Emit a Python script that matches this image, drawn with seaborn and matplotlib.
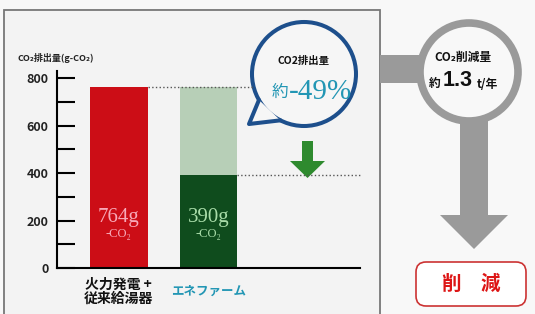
import matplotlib
matplotlib.use("Agg")
import matplotlib.pyplot as plt
import numpy as np
import pandas as pd
import seaborn as sns
from matplotlib.patches import Rectangle, Circle, Polygon, FancyBboxPatch

# data
categories = ["火力発電 +\n従来給湯器", "エネファーム"]
baseline = [764, 764]
emissions = [764, 390]
value_labels = ["764g", "390g"]
reduction_label = "-49%"
annual_cut = "1.3"

RED = "#cc0d16"
LIGHT_GREEN = "#b7cfb7"
DARK_GREEN = "#0f4c1d"
TEAL = "#2296b4"
BLUE_RING = "#1d4f8c"
GREY = "#9a9a9a"

sns.set_theme(style="white")
plt.rcParams["font.family"] = ["Noto Sans CJK JP", "DejaVu Sans"]

fig = plt.figure(figsize=(5.35, 3.14), dpi=100, facecolor="#f8f8f8")

# decoration layer in pixel coordinates
deco = fig.add_axes([0, 0, 1, 1], zorder=0)
deco.set_xlim(0, 535)
deco.set_ylim(314, 0)
deco.axis("off")

deco.add_patch(Rectangle((4, 10), 376, 320, facecolor="#f3f3f3",
                         edgecolor="#777777", lw=1.3))

# speech bubble
cx, cy, r = 304, 74, 52
deco.add_patch(Circle((cx, cy), r, facecolor="#f6f6f6", edgecolor=BLUE_RING, lw=2.9, zorder=3))
a1, a2 = np.deg2rad(117), np.deg2rad(150)
p1 = (cx + r * np.cos(a1), cy + r * np.sin(a1))
p2 = (cx + r * np.cos(a2), cy + r * np.sin(a2))
tip = (249, 124)
deco.add_patch(Polygon([p2, tip, p1], closed=True, facecolor="#f6f6f6", edgecolor="none", zorder=4))
deco.plot([p2[0], tip[0], p1[0]], [p2[1], tip[1], p1[1]], color=BLUE_RING, lw=2.9,
          solid_joinstyle="round", solid_capstyle="round", zorder=5)
deco.text(cx, 61, "CO2排出量", ha="center", va="center", fontsize=7.5,
          fontweight="bold", color="#111111", zorder=6)
deco.text(280, 92, "約", ha="center", va="center", fontsize=12, color=TEAL, zorder=6)
deco.text(320, 92, reduction_label, ha="center", va="center", fontsize=21,
          family=["Liberation Serif"], color=TEAL, zorder=6)

# green down arrow
deco.add_patch(Polygon([(302, 141), (313, 141), (313, 161), (325, 161), (307.5, 178),
                        (290, 161), (302, 161)], closed=True, facecolor="#2e8a2e",
                       edgecolor="none"))

# right side: grey connector, ring, arrow
deco.add_patch(Rectangle((380, 55), 45, 28, facecolor=GREY, edgecolor="none"))
deco.add_patch(Rectangle((460, 110), 28, 106, facecolor=GREY, edgecolor="none"))
deco.add_patch(Polygon([(440, 215), (508, 215), (474, 249)], closed=True,
                       facecolor=GREY, edgecolor="none"))
deco.add_patch(Circle((469, 72), 49, facecolor="#f8f8f8", edgecolor=GREY, lw=5.5, zorder=3))
deco.text(463, 57, "CO₂削減量", ha="center", va="center", fontsize=8.5,
          fontweight="bold", color="#111111", zorder=6)
deco.text(441, 83, "約", ha="right", va="center", fontsize=8.5, fontweight="bold",
          color="#111111", zorder=6)
deco.text(443, 81, annual_cut, ha="left", va="center", fontsize=15.5, fontweight="bold",
          family=["Liberation Sans"], color="#111111", zorder=6)
deco.text(477, 84, "t/年", ha="left", va="center", fontsize=8.5, fontweight="bold",
          color="#111111", zorder=6)

deco.add_patch(FancyBboxPatch((416, 262), 110, 44, boxstyle="round,pad=0,rounding_size=10",
                              facecolor="white", edgecolor="#cc3333", lw=1.2))
deco.text(471, 284, "削　減", ha="center", va="center", fontsize=14,
          fontweight="bold", color="#dd1515")

# bar chart
ax = fig.add_axes([57 / 535, (314 - 268) / 314, 303 / 535, 197 / 314], zorder=1)
ax.patch.set_alpha(0)

df = pd.DataFrame({"category": categories, "baseline": baseline, "emissions": emissions})
sns.barplot(data=df, x="category", y="baseline", hue="category",
            palette=[RED, LIGHT_GREEN], saturation=1, width=0.64,
            linewidth=0, legend=False, ax=ax)
over = df.copy()
over.loc[0, "emissions"] = 0
sns.barplot(data=over, x="category", y="emissions", hue="category",
            palette=[RED, DARK_GREEN], saturation=1, width=0.64,
            linewidth=0, legend=False, ax=ax)

ax.set_xlim(-0.69, 2.69)
ax.set_ylim(0, 830)
ax.set_xlabel("")
ax.set_ylabel("")
sns.despine(ax=ax)
for s in ["left", "bottom"]:
    ax.spines[s].set_color("black")
    ax.spines[s].set_linewidth(1.5)

ax.set_yticks([0, 200, 400, 600, 800])
ax.set_yticks([100, 300, 500, 700], minor=True)
ax.tick_params(axis="y", which="both", direction="in", length=13, width=1.5,
               color="black", left=True, pad=6)
ax.tick_params(axis="y", which="major", labelsize=9)
for t in ax.get_yticklabels():
    t.set_fontweight("bold")
    t.set_color("#222222")
ax.tick_params(axis="x", length=0, pad=7)
xt = ax.get_xticklabels()
xt[0].set_fontsize(10)
xt[0].set_fontweight("bold")
xt[0].set_color("#111111")
xt[0].set_linespacing(1.0)
xt[1].set_fontsize(9)
xt[1].set_fontweight("bold")
xt[1].set_color(TEAL)
xt[1].set_y(-0.035)

# dotted guide lines
ax.hlines(baseline[0], 0.32, 1.5, colors="#555555", linestyles=":", lw=1, clip_on=False)
ax.hlines(emissions[1], 1.32, 2.71, colors="#555555", linestyles=":", lw=1, clip_on=False)

# value labels inside the bars
label_colors = ["#f7a9b8", "#a8dca8"]
for i, (lbl, c) in enumerate(zip(value_labels, label_colors)):
    ax.text(i, 214, lbl, ha="center", va="center", fontsize=15,
            family=["Liberation Serif"], color=c)
    ax.text(i, 143, "-CO₂", ha="center", va="center", fontsize=9,
            family=["Liberation Serif", "DejaVu Serif"], color=c)

fig.text(17 / 535, 1 - 58 / 314, "CO₂排出量(g-CO₂)", fontsize=6.5, fontweight="bold",
         color="#222222", va="center")

fig.savefig("out.png", dpi=100, facecolor=fig.get_facecolor())
